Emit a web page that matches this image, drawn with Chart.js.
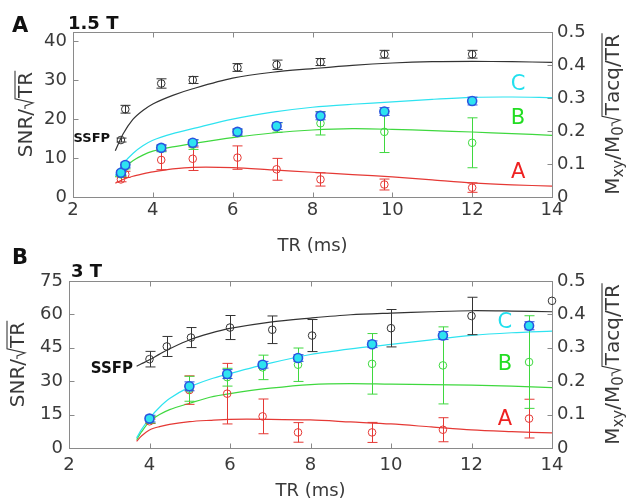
<!DOCTYPE html>
<html>
<head>
<meta charset="utf-8">
<script src="https://cdn.jsdelivr.net/npm/chart.js@4.4.0/dist/chart.umd.min.js"></script>
<style>
  body { margin: 0; background: #fff; }
  #wrap { position: relative; width: 627px; height: 500px; }
  canvas { position: absolute; left: 0; }
  #chartA { top: 0; }
  #chartB { top: 238px; }
</style>
</head>
<body>
<div id="wrap">
  <canvas id="chartA" width="627" height="262"></canvas>
  <canvas id="chartB" width="627" height="262"></canvas>
</div>
<script>
// ---- painel A : 1.5 T ----
const trA = [3.2, 3.31, 4.21, 5.0, 6.12, 7.1, 8.2, 9.8, 12.0];
const ssfpA = [14.6, 22.5, 29.1, 30.0, 33.2, 33.9, 34.6, 36.6, 36.6];
const ssfpErrA = [0.5, 1.0, 1.2, 0.9, 1.0, 1.2, 0.9, 1.0, 1.0];
const cA = [6.2, 8.2, 12.6, 13.9, 16.7, 18.2, 20.8, 21.9, 24.6];
const cErrA = [0.6, 0.7, 0.8, 0.8, 0.8, 0.9, 1.0, 1.0, 1.0];
const bA = [5.8, 7.8, 12.4, 13.4, 16.5, 17.8, 18.9, 16.7, 13.9];
const bErrA = [0.5, 0.6, 0.8, 1.2, 0.8, 1.2, 3.0, 5.3, 6.4];
const aA = [4.5, 5.8, 9.5, 9.8, 10.1, 7.1, 4.5, 3.2, 2.4];
const aErrA = [0.6, 0.8, 2.5, 3.0, 3.0, 2.8, 1.7, 1.4, 1.2];

const curveTrA = [3.06, 3.25, 3.5, 3.75, 4, 4.5, 5, 6, 7, 8, 9, 10, 11, 12, 13, 14];
const ssfpCurveA = [0.14, 0.19, 0.235, 0.262, 0.282, 0.308, 0.328, 0.36, 0.378, 0.389, 0.399, 0.406, 0.41, 0.411, 0.41, 0.408];
const cCurveA = [0.065, 0.1, 0.132, 0.155, 0.172, 0.192, 0.207, 0.236, 0.257, 0.272, 0.281, 0.288, 0.296, 0.302, 0.303, 0.301];
const bCurveA = [0.06, 0.085, 0.11, 0.127, 0.139, 0.152, 0.162, 0.18, 0.194, 0.203, 0.207, 0.205, 0.201, 0.197, 0.192, 0.187];
const aCurveA = [0.042, 0.053, 0.063, 0.07, 0.076, 0.085, 0.09, 0.089, 0.082, 0.075, 0.068, 0.061, 0.052, 0.043, 0.037, 0.033];

// ---- painel B : 3 T ----
const trSsfpB = [4.0, 4.43, 5.03, 6.0, 7.05, 8.04, 10.0, 12.0, 14.0];
const ssfpB = [39.9, 45.6, 49.6, 54.1, 53.1, 50.5, 53.8, 59.3, 66.1];
const ssfpErrB = [3.5, 4.5, 4.5, 5.4, 6.2, 7.2, 8.4, 8.4, 0];
const trB = [4.0, 4.99, 5.93, 6.81, 7.69, 9.53, 11.29, 13.43];
const cB = [13.2, 27.7, 33.2, 37.4, 40.4, 46.6, 50.5, 54.9];
const cErrB = [1.5, 2.0, 2.0, 1.5, 1.5, 1.5, 1.8, 1.8];
const bB = [12.7, 26.6, 31.8, 36.2, 37.4, 37.8, 37.1, 38.6];
const bErrB = [1.5, 5.6, 4.0, 5.5, 7.5, 13.6, 17.3, 20.8];
const aB = [12.0, 26.0, 24.4, 14.2, 7.0, 7.0, 8.2, 13.2];
const aErrB = [1.0, 6.4, 13.6, 7.8, 4.4, 4.5, 5.4, 8.7];

const curveTrB = [3.68, 3.8, 4, 4.25, 4.5, 5, 5.5, 6, 7, 8, 9, 10, 11, 12, 13, 14];
const ssfpCurveB = [0.245, 0.252, 0.264, 0.281, 0.297, 0.324, 0.343, 0.358, 0.377, 0.389, 0.399, 0.404, 0.408, 0.411, 0.41, 0.408];
const cCurveB = [0.03, 0.055, 0.089, 0.122, 0.148, 0.183, 0.206, 0.223, 0.254, 0.28, 0.297, 0.31, 0.324, 0.337, 0.345, 0.35];
const bCurveB = [0.025, 0.048, 0.079, 0.1, 0.115, 0.134, 0.152, 0.163, 0.179, 0.19, 0.193, 0.191, 0.19, 0.188, 0.185, 0.181];
const aCurveB = [0.02, 0.036, 0.054, 0.064, 0.071, 0.079, 0.083, 0.086, 0.086, 0.084, 0.078, 0.072, 0.063, 0.054, 0.049, 0.045];

const xTicks = [2, 4, 6, 8, 10, 12, 14];

const COR = {
    preto: "#333333",
    ciano: "#2ee3f0",
    azul: "#2a55e0",
    verde: "#3fd83f",
    vermelho: "#e53935",
    moldura: "#8a8a8a",
    texto: "#3a3a3a"
};
const FONTE = "'DejaVu Sans', sans-serif";

function pts(xs, ys) {
    return xs.map((x, i) => ({ x: x, y: ys[i] }));
}

function curva(xs, ys, cor) {
    return {
        data: pts(xs, ys), yAxisID: "y2", showLine: true, pointRadius: 0,
        borderColor: cor, borderWidth: 1.2, tension: 0.3,
        order: 20, clip: false
    };
}

function pontos(xs, ys, erros, cor, preenchido, ordem) {
    return {
        data: pts(xs, ys), yAxisID: "y", showLine: false,
        pointRadius: preenchido ? 4.5 : 3.8,
        pointBorderWidth: preenchido ? 1.6 : 1,
        pointBorderColor: cor,
        pointBackgroundColor: preenchido ? COR.ciano : "rgba(0,0,0,0)",
        erros: erros, corErro: cor, order: ordem, clip: false
    };
}

// barras de erro desenhadas antes dos pontos de cada dataset
const barrasErro = {
    id: "barrasErro",
    beforeDatasetDraw(chart, args) {
        const ds = chart.data.datasets[args.index];
        if (!ds.erros) return;
        const ctx = chart.ctx;
        const sx = chart.scales.x, sy = chart.scales[ds.yAxisID];
        ctx.save();
        ctx.strokeStyle = ds.corErro;
        ctx.lineWidth = 1;
        ds.data.forEach((p, i) => {
            const e = ds.erros[i];
            if (!e) return;
            const px = Math.round(sx.getPixelForValue(p.x)) + 0.5;
            const t = sy.getPixelForValue(p.y + e);
            const b = sy.getPixelForValue(p.y - e);
            ctx.beginPath();
            ctx.moveTo(px, t); ctx.lineTo(px, b);
            ctx.moveTo(px - 5, t); ctx.lineTo(px + 5, t);
            ctx.moveTo(px - 5, b); ctx.lineTo(px + 5, b);
            ctx.stroke();
        });
        ctx.restore();
    }
};

// moldura com marcas para dentro
const moldura = {
    id: "moldura",
    beforeDatasetsDraw(chart) {
        const ctx = chart.ctx, a = chart.chartArea;
        const sx = chart.scales.x, sy = chart.scales.y, sy2 = chart.scales.y2;
        ctx.save();
        ctx.strokeStyle = COR.moldura;
        ctx.lineWidth = 1;
        const l = Math.round(a.left) + 0.5, r = Math.round(a.right) + 0.5;
        const t = Math.round(a.top) + 0.5, b = Math.round(a.bottom) + 0.5;
        ctx.strokeRect(l, t, r - l, b - t);
        ctx.beginPath();
        sx.ticks.forEach(tk => {
            const px = Math.round(sx.getPixelForValue(tk.value)) + 0.5;
            ctx.moveTo(px, b); ctx.lineTo(px, b - 5);
            ctx.moveTo(px, t); ctx.lineTo(px, t + 5);
        });
        sy.ticks.forEach(tk => {
            const py = Math.round(sy.getPixelForValue(tk.value)) + 0.5;
            ctx.moveTo(l, py); ctx.lineTo(l + 5, py);
        });
        sy2.ticks.forEach(tk => {
            const py = Math.round(sy2.getPixelForValue(tk.value)) + 0.5;
            ctx.moveTo(r, py); ctx.lineTo(r - 5, py);
        });
        ctx.stroke();
        ctx.restore();
    }
};

// radical desenhado à mão
function radical(ctx, x, base, fim) {
    ctx.beginPath();
    ctx.moveTo(x, base - 7);
    ctx.lineTo(x + 3, base - 7);
    ctx.lineTo(x + 6, base + 1);
    ctx.lineTo(x + 10, base - 17);
    ctx.lineTo(fim, base - 17);
    ctx.stroke();
}

// textos: letra do painel, campo, rótulos A/B/C, SSFP, títulos dos eixos
function textos(cfg) {
    return {
        id: "textos",
        afterDraw(chart) {
            const ctx = chart.ctx, a = chart.chartArea;
            const sx = chart.scales.x, sy2 = chart.scales.y2;
            ctx.save();
            ctx.fillStyle = "#111";
            ctx.textBaseline = "alphabetic";
            ctx.textAlign = "left";
            ctx.font = "bold 21px " + FONTE;
            ctx.fillText(cfg.letra, 12, cfg.letraY);
            ctx.font = "bold 18px " + FONTE;
            ctx.fillText(cfg.campo, cfg.campoX, cfg.campoY);

            ctx.font = "bold " + cfg.ssfpFonte + "px " + FONTE;
            ctx.textAlign = "right";
            ctx.fillText("SSFP", sx.getPixelForValue(cfg.ssfp[0]), sy2.getPixelForValue(cfg.ssfp[1]));

            ctx.font = "21px " + FONTE;
            ctx.textAlign = "center";
            ctx.textBaseline = "middle";
            cfg.rotulos.forEach(r => {
                ctx.fillStyle = r[3];
                ctx.fillText(r[0], sx.getPixelForValue(r[1]), sy2.getPixelForValue(r[2]));
            });

            ctx.fillStyle = COR.texto;
            ctx.strokeStyle = COR.texto;
            ctx.lineWidth = 1.1;
            ctx.font = "18px " + FONTE;
            ctx.textBaseline = "alphabetic";
            ctx.fillText("TR (ms)", (a.left + a.right) / 2, cfg.tituloX);
            ctx.textAlign = "left";

            // SNR/√TR
            ctx.save();
            ctx.translate(cfg.esqX, (a.top + a.bottom) / 2);
            ctx.rotate(-Math.PI / 2);
            ctx.font = "20px " + FONTE;
            const w1 = ctx.measureText("SNR/").width, w2 = ctx.measureText("TR").width;
            const x0 = -(w1 + 11 + w2) / 2;
            ctx.fillText("SNR/", x0, 7);
            ctx.fillText("TR", x0 + w1 + 11, 7);
            radical(ctx, x0 + w1, 7, x0 + w1 + 11 + w2 + 1);
            ctx.restore();

            // Mxy/M0 √(Tacq/TR)
            ctx.save();
            ctx.translate(cfg.dirX, (a.top + a.bottom) / 2);
            ctx.rotate(-Math.PI / 2);
            const antes = [["M", 20, 0], ["xy", 15, 4], ["/", 20, 0], ["M", 20, 0], ["0", 15, 4]];
            const dentro = [["T", 20, 0], ["acq", 20, 0], ["/TR", 20, 0]];
            const medir = lista => lista.map(p => { ctx.font = p[1] + "px " + FONTE; return ctx.measureText(p[0]).width; });
            const la = medir(antes), ld = medir(dentro);
            const soma = v => v.reduce((s, w) => s + w, 0);
            let x = -(soma(la) + 11 + soma(ld)) / 2;
            antes.forEach((p, i) => { ctx.font = p[1] + "px " + FONTE; ctx.fillText(p[0], x, 7 + p[2]); x += la[i]; });
            const xr = x;
            x += 11;
            dentro.forEach((p, i) => { ctx.font = p[1] + "px " + FONTE; ctx.fillText(p[0], x, 7 + p[2]); x += ld[i]; });
            radical(ctx, xr, 7, x + 1);
            ctx.restore();

            ctx.restore();
        }
    };
}

function criarPainel(id, dados, cfg) {
    new Chart(document.getElementById(id).getContext("2d"), {
        type: "scatter",
        data: { datasets: dados },
        options: {
            responsive: false,
            animation: false,
            layout: { padding: { top: cfg.topo, left: 0, right: 0, bottom: 0 } },
            plugins: { legend: { display: false }, tooltip: { enabled: false } },
            scales: {
                x: {
                    type: "linear", min: 2, max: 14,
                    grid: { display: false, drawTicks: false }, border: { display: false },
                    afterBuildTicks: s => { s.ticks = xTicks.map(v => ({ value: v })); },
                    ticks: { color: COR.texto, font: { family: FONTE, size: 18 }, padding: cfg.xPad, maxRotation: 0 },
                    afterFit: s => { s.height = cfg.alturaX; }
                },
                y: {
                    position: "left", min: 0, max: cfg.maxEsq,
                    grid: { display: false, drawTicks: false }, border: { display: false },
                    ticks: { stepSize: cfg.passoEsq, includeBounds: false, color: COR.texto, font: { family: FONTE, size: 18 }, padding: 6 },
                    afterFit: s => { s.width = cfg.larguraEsq; }
                },
                y2: {
                    position: "right", min: 0, max: 0.5,
                    grid: { display: false, drawTicks: false }, border: { display: false },
                    ticks: { stepSize: 0.1, color: COR.texto, font: { family: FONTE, size: 18 }, padding: 5,
                        callback: v => v === 0 ? "0" : v.toFixed(1) },
                    afterFit: s => { s.width = 75; }
                }
            }
        },
        plugins: [moldura, barrasErro, textos(cfg)]
    });
}

criarPainel("chartA", [
    curva(curveTrA, ssfpCurveA, COR.preto),
    curva(curveTrA, cCurveA, COR.ciano),
    curva(curveTrA, bCurveA, COR.verde),
    curva(curveTrA, aCurveA, COR.vermelho),
    pontos(trA, ssfpA, ssfpErrA, COR.preto, false, 5),
    pontos(trA, aA, aErrA, COR.vermelho, false, 4),
    pontos(trA, bA, bErrA, COR.verde, false, 3),
    pontos(trA, cA, cErrA, COR.azul, true, 1)
], {
    topo: 32, alturaX: 65, xPad: 3, maxEsq: 42.3, passoEsq: 10, larguraEsq: 73,
    letra: "A", letraY: 32, campo: "1.5 T", campoX: 68, campoY: 29,
    ssfp: [2.93, 0.168], ssfpFonte: 13,
    rotulos: [["C", 13.15, 0.342, "#22e0ee"], ["B", 13.15, 0.239, "#22dd22"], ["A", 13.15, 0.073, "#ee2222"]],
    tituloX: 251, esqX: 25, dirX: 612
});

criarPainel("chartB", [
    curva(curveTrB, ssfpCurveB, COR.preto),
    curva(curveTrB, cCurveB, COR.ciano),
    curva(curveTrB, bCurveB, COR.verde),
    curva(curveTrB, aCurveB, COR.vermelho),
    pontos(trSsfpB, ssfpB, ssfpErrB, COR.preto, false, 5),
    pontos(trB, aB, aErrB, COR.vermelho, false, 4),
    pontos(trB, bB, bErrB, COR.verde, false, 3),
    pontos(trB, cB, cErrB, COR.azul, true, 1)
], {
    topo: 43, alturaX: 52, xPad: 7, maxEsq: 75, passoEsq: 15, larguraEsq: 69,
    letra: "B", letraY: 26, campo: "3 T", campoX: 71, campoY: 39,
    ssfp: [3.59, 0.225], ssfpFonte: 15,
    rotulos: [["C", 12.83, 0.377, "#22e0ee"], ["B", 12.83, 0.249, "#22dd22"], ["A", 12.83, 0.084, "#ee2222"]],
    tituloX: 258, esqX: 17, dirX: 612
});
</script>
</body>
</html>
